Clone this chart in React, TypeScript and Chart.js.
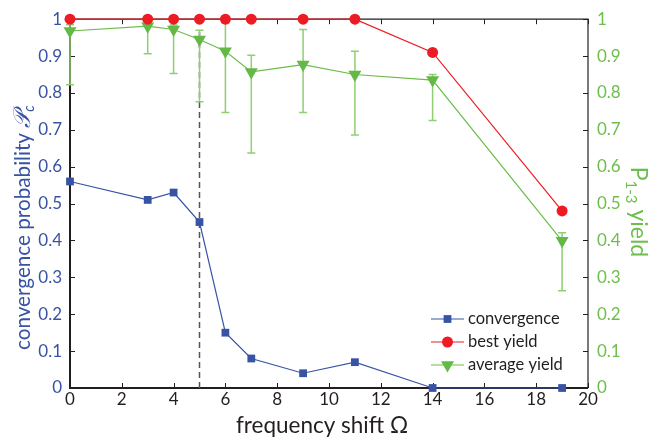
import React, { useEffect, useRef } from "react";
import { Chart, registerables } from "chart.js";

Chart.register(...registerables);

// ---- data ----
const omega = [0, 3, 4, 5, 6, 7, 9, 11, 14, 19];
const convergence = [0.56, 0.51, 0.53, 0.45, 0.15, 0.08, 0.04, 0.07, 0, 0];
const bestYield = [1, 1, 1, 1, 1, 1, 1, 1, 0.91, 0.48];
const avgYield = [0.968, 0.981, 0.972, 0.945, 0.913, 0.857, 0.877, 0.85, 0.835, 0.399];
const avgYieldLow = [0.822, 0.906, 0.853, 0.776, 0.747, 0.637, 0.747, 0.686, 0.725, 0.264];
const avgYieldHigh = [0.985, 0.99, 0.984, 0.97, 0.99, 0.902, 0.972, 0.913, 0.85, 0.421];
const thresholdOmega = 5;
const thresholdTop = 0.97;
const xTicks = [0, 2, 4, 6, 8, 10, 12, 14, 16, 18, 20];
const yTicks = [0, 0.1, 0.2, 0.3, 0.4, 0.5, 0.6, 0.7, 0.8, 0.9, 1];
const seriesNames = ["convergence", "best yield", "average yield"];
const xTitle = "frequency shift Ω";
const leftTitle = "convergence probability ";
const leftTitleSymbol = "𝒫";
const leftTitleSub = "c";
const rightTitleMain = "P";
const rightTitleSub = "1-3";
const rightTitleRest = " yield";

const FAMILY = 'Lato, "Open Sans", "DejaVu Sans", sans-serif';
const BLUE = "#3953a4";
const RED = "#ed1c24";
const GREEN = "#62b946";
const GREEN_LINE = "#6abd45";
const GREEN_ERR = "#8fcf72";
const GREEN_TEXT = "#6dbe4b";
const BLACK = "#231f20";

const decor = {
  id: "decor",
  beforeDatasetsDraw(chart: any) {
    const { ctx, chartArea, scales } = chart;
    const { left, right, top, bottom } = chartArea;
    const x = scales.x;
    const y = scales.y;
    const y1 = scales.y1;
    ctx.save();
    // frame
    ctx.strokeStyle = BLACK;
    ctx.lineWidth = 1.2;
    ctx.beginPath();
    ctx.moveTo(left, top);
    ctx.lineTo(right, top);
    ctx.lineTo(right, bottom);
    ctx.stroke();
    ctx.lineWidth = 2;
    ctx.beginPath();
    ctx.moveTo(left, top);
    ctx.lineTo(left, bottom);
    ctx.lineTo(right, bottom);
    ctx.stroke();
    // inward ticks
    ctx.lineWidth = 1;
    ctx.beginPath();
    xTicks.forEach((t) => {
      const px = Math.round(x.getPixelForValue(t)) + 0.5;
      ctx.moveTo(px, bottom);
      ctx.lineTo(px, bottom - 5);
      ctx.moveTo(px, top);
      ctx.lineTo(px, top + 5);
    });
    yTicks.forEach((t) => {
      const py = Math.round(y.getPixelForValue(t)) + 0.5;
      ctx.moveTo(left, py);
      ctx.lineTo(left + 5, py);
      const py1 = Math.round(y1.getPixelForValue(t)) + 0.5;
      ctx.moveTo(right, py1);
      ctx.lineTo(right - 5, py1);
    });
    ctx.stroke();
    // dashed threshold
    ctx.strokeStyle = "#555555";
    ctx.lineWidth = 1.5;
    ctx.setLineDash([6, 4]);
    ctx.beginPath();
    const dx = x.getPixelForValue(thresholdOmega);
    ctx.moveTo(dx, y.getPixelForValue(0));
    ctx.lineTo(dx, y.getPixelForValue(thresholdTop));
    ctx.stroke();
    ctx.setLineDash([]);
    // error bars
    ctx.strokeStyle = GREEN_ERR;
    ctx.lineWidth = 1.5;
    ctx.beginPath();
    omega.forEach((o, i) => {
      const px = x.getPixelForValue(o);
      const lo = y1.getPixelForValue(avgYieldLow[i]);
      const hi = y1.getPixelForValue(avgYieldHigh[i]);
      ctx.moveTo(px, lo);
      ctx.lineTo(px, hi);
      ctx.moveTo(px - 4, lo);
      ctx.lineTo(px + 4, lo);
      ctx.moveTo(px - 4, hi);
      ctx.lineTo(px + 4, hi);
    });
    ctx.stroke();
    ctx.restore();
  },
  afterDatasetsDraw(chart: any) {
    const { ctx } = chart;
    ctx.save();
    // legend
    const lx0 = 431;
    const lx1 = 464;
    const tx = 468;
    const rows = [319, 342, 365];
    chart.data.datasets.forEach((ds: any, i: number) => {
      const ry = rows[i];
      ctx.strokeStyle = ds.borderColor;
      ctx.lineWidth = 1.2;
      ctx.beginPath();
      ctx.moveTo(lx0, ry);
      ctx.lineTo(lx1, ry);
      ctx.stroke();
      ctx.fillStyle = ds.pointBackgroundColor;
      const r = ds.pointRadius;
      const mx = (lx0 + lx1) / 2;
      if (ds.pointStyle === "rect") {
        const s = r * Math.SQRT1_2;
        ctx.fillRect(mx - s, ry - s, 2 * s, 2 * s);
      } else if (ds.pointStyle === "circle") {
        ctx.beginPath();
        ctx.arc(mx, ry, r, 0, Math.PI * 2);
        ctx.fill();
      } else {
        const w = (r * Math.sqrt(3)) / 2;
        ctx.beginPath();
        ctx.moveTo(mx - w, ry - r / 2);
        ctx.lineTo(mx + w, ry - r / 2);
        ctx.lineTo(mx, ry + r);
        ctx.closePath();
        ctx.fill();
      }
      ctx.fillStyle = BLACK;
      ctx.font = `16.5px ${FAMILY}`;
      ctx.textBaseline = "middle";
      ctx.textAlign = "left";
      ctx.fillText(seriesNames[i], tx, ry);
    });
    // x title
    ctx.fillStyle = BLACK;
    ctx.font = `22.5px ${FAMILY}`;
    ctx.textAlign = "center";
    ctx.textBaseline = "alphabetic";
    ctx.fillText(xTitle, 322, 433);
    // left title (rotated, anchored at its start, compressed along its length)
    ctx.save();
    ctx.translate(30, 350);
    ctx.rotate(-Math.PI / 2);
    ctx.scale(0.94, 1);
    ctx.fillStyle = BLUE;
    ctx.textAlign = "left";
    ctx.textBaseline = "alphabetic";
    let cx = 0;
    ctx.font = `22px ${FAMILY}`;
    ctx.fillText(leftTitle, cx, 0);
    cx += ctx.measureText(leftTitle).width;
    ctx.font = `italic 24px ${FAMILY}`;
    ctx.fillText(leftTitleSymbol, cx, 0);
    cx += ctx.measureText(leftTitleSymbol).width;
    ctx.font = `italic 15px ${FAMILY}`;
    ctx.fillText(leftTitleSub, cx, 4);
    ctx.restore();
    // right title (rotated)
    ctx.save();
    ctx.translate(631, 212);
    ctx.rotate(Math.PI / 2);
    ctx.fillStyle = GREEN_TEXT;
    ctx.textAlign = "left";
    ctx.textBaseline = "alphabetic";
    ctx.font = `23px ${FAMILY}`;
    const r1 = ctx.measureText(rightTitleMain).width;
    const r3 = ctx.measureText(rightTitleRest).width;
    ctx.font = `15px ${FAMILY}`;
    const r2 = ctx.measureText(rightTitleSub).width;
    let rx = -(r1 + r2 + r3) / 2;
    ctx.font = `23px ${FAMILY}`;
    ctx.fillText(rightTitleMain, rx, 0);
    rx += r1;
    ctx.font = `15px ${FAMILY}`;
    ctx.fillText(rightTitleSub, rx, 5);
    rx += r2;
    ctx.font = `23px ${FAMILY}`;
    ctx.fillText(rightTitleRest, rx, 0);
    ctx.restore();
    ctx.restore();
  },
};

const fmt = (v: any) => String(Math.round(Number(v) * 10) / 10);

export default function App() {
  const ref = useRef<HTMLCanvasElement>(null);
  useEffect(() => {
    if (!ref.current) return;
    const chart = new Chart(ref.current, {
      type: "line",
      data: {
        datasets: [
          {
            label: seriesNames[0],
            data: omega.map((o, i) => ({ x: o, y: convergence[i] })),
            yAxisID: "y",
            borderColor: BLUE,
            backgroundColor: BLUE,
            pointBackgroundColor: BLUE,
            pointBorderColor: BLUE,
            pointStyle: "rect",
            pointRadius: 5.5,
            borderWidth: 1.2,
            pointBorderWidth: 0,
            clip: false,
          } as any,
          {
            label: seriesNames[1],
            data: omega.map((o, i) => ({ x: o, y: bestYield[i] })),
            yAxisID: "y1",
            borderColor: RED,
            backgroundColor: RED,
            pointBackgroundColor: RED,
            pointBorderColor: RED,
            pointStyle: "circle",
            pointRadius: 5.5,
            borderWidth: 1.2,
            pointBorderWidth: 0,
            clip: false,
          },
          {
            label: seriesNames[2],
            data: omega.map((o, i) => ({ x: o, y: avgYield[i] })),
            yAxisID: "y1",
            borderColor: GREEN_LINE,
            backgroundColor: GREEN,
            pointBackgroundColor: GREEN,
            pointBorderColor: GREEN,
            pointStyle: "triangle",
            pointRotation: 180,
            pointRadius: 7.5,
            borderWidth: 1.2,
            pointBorderWidth: 0,
            clip: false,
          },
        ],
      },
      options: {
        animation: false,
        responsive: false,
        maintainAspectRatio: false,
        layout: { padding: { top: 17, left: 0, right: 0, bottom: 0 } },
        plugins: { legend: { display: false }, tooltip: { enabled: false } },
        scales: {
          x: {
            type: "linear",
            min: 0,
            max: 20,
            afterBuildTicks: (s: any) => {
              s.ticks = xTicks.map((v) => ({ value: v }));
            },
            ticks: { color: BLACK, font: { family: FAMILY, size: 17 }, padding: 1, maxRotation: 0 },
            grid: { display: false, drawTicks: false },
            border: { display: false },
            afterFit: (s: any) => {
              s.height = 55;
            },
          },
          y: {
            position: "left",
            min: 0,
            max: 1,
            afterBuildTicks: (s: any) => {
              s.ticks = yTicks.map((v) => ({ value: v }));
            },
            ticks: { color: BLUE, font: { family: FAMILY, size: 17 }, padding: 8, callback: fmt },
            grid: { display: false, drawTicks: false },
            border: { display: false },
            afterFit: (s: any) => {
              s.width = 70;
            },
          },
          y1: {
            position: "right",
            min: 0,
            max: 1,
            afterBuildTicks: (s: any) => {
              s.ticks = yTicks.map((v) => ({ value: v }));
            },
            ticks: { color: GREEN_TEXT, font: { family: FAMILY, size: 17 }, padding: 9, callback: fmt },
            grid: { display: false, drawTicks: false },
            border: { display: false },
            afterFit: (s: any) => {
              s.width = 60;
            },
          },
        },
      } as any,
      plugins: [decor],
    });
    return () => chart.destroy();
  }, []);
  return (
    <div style={{ position: "fixed", left: 0, top: 0, width: 648, height: 443, background: "#fff" }}>
      <canvas ref={ref} width={648} height={443} style={{ width: 648, height: 443 }} />
    </div>
  );
}
